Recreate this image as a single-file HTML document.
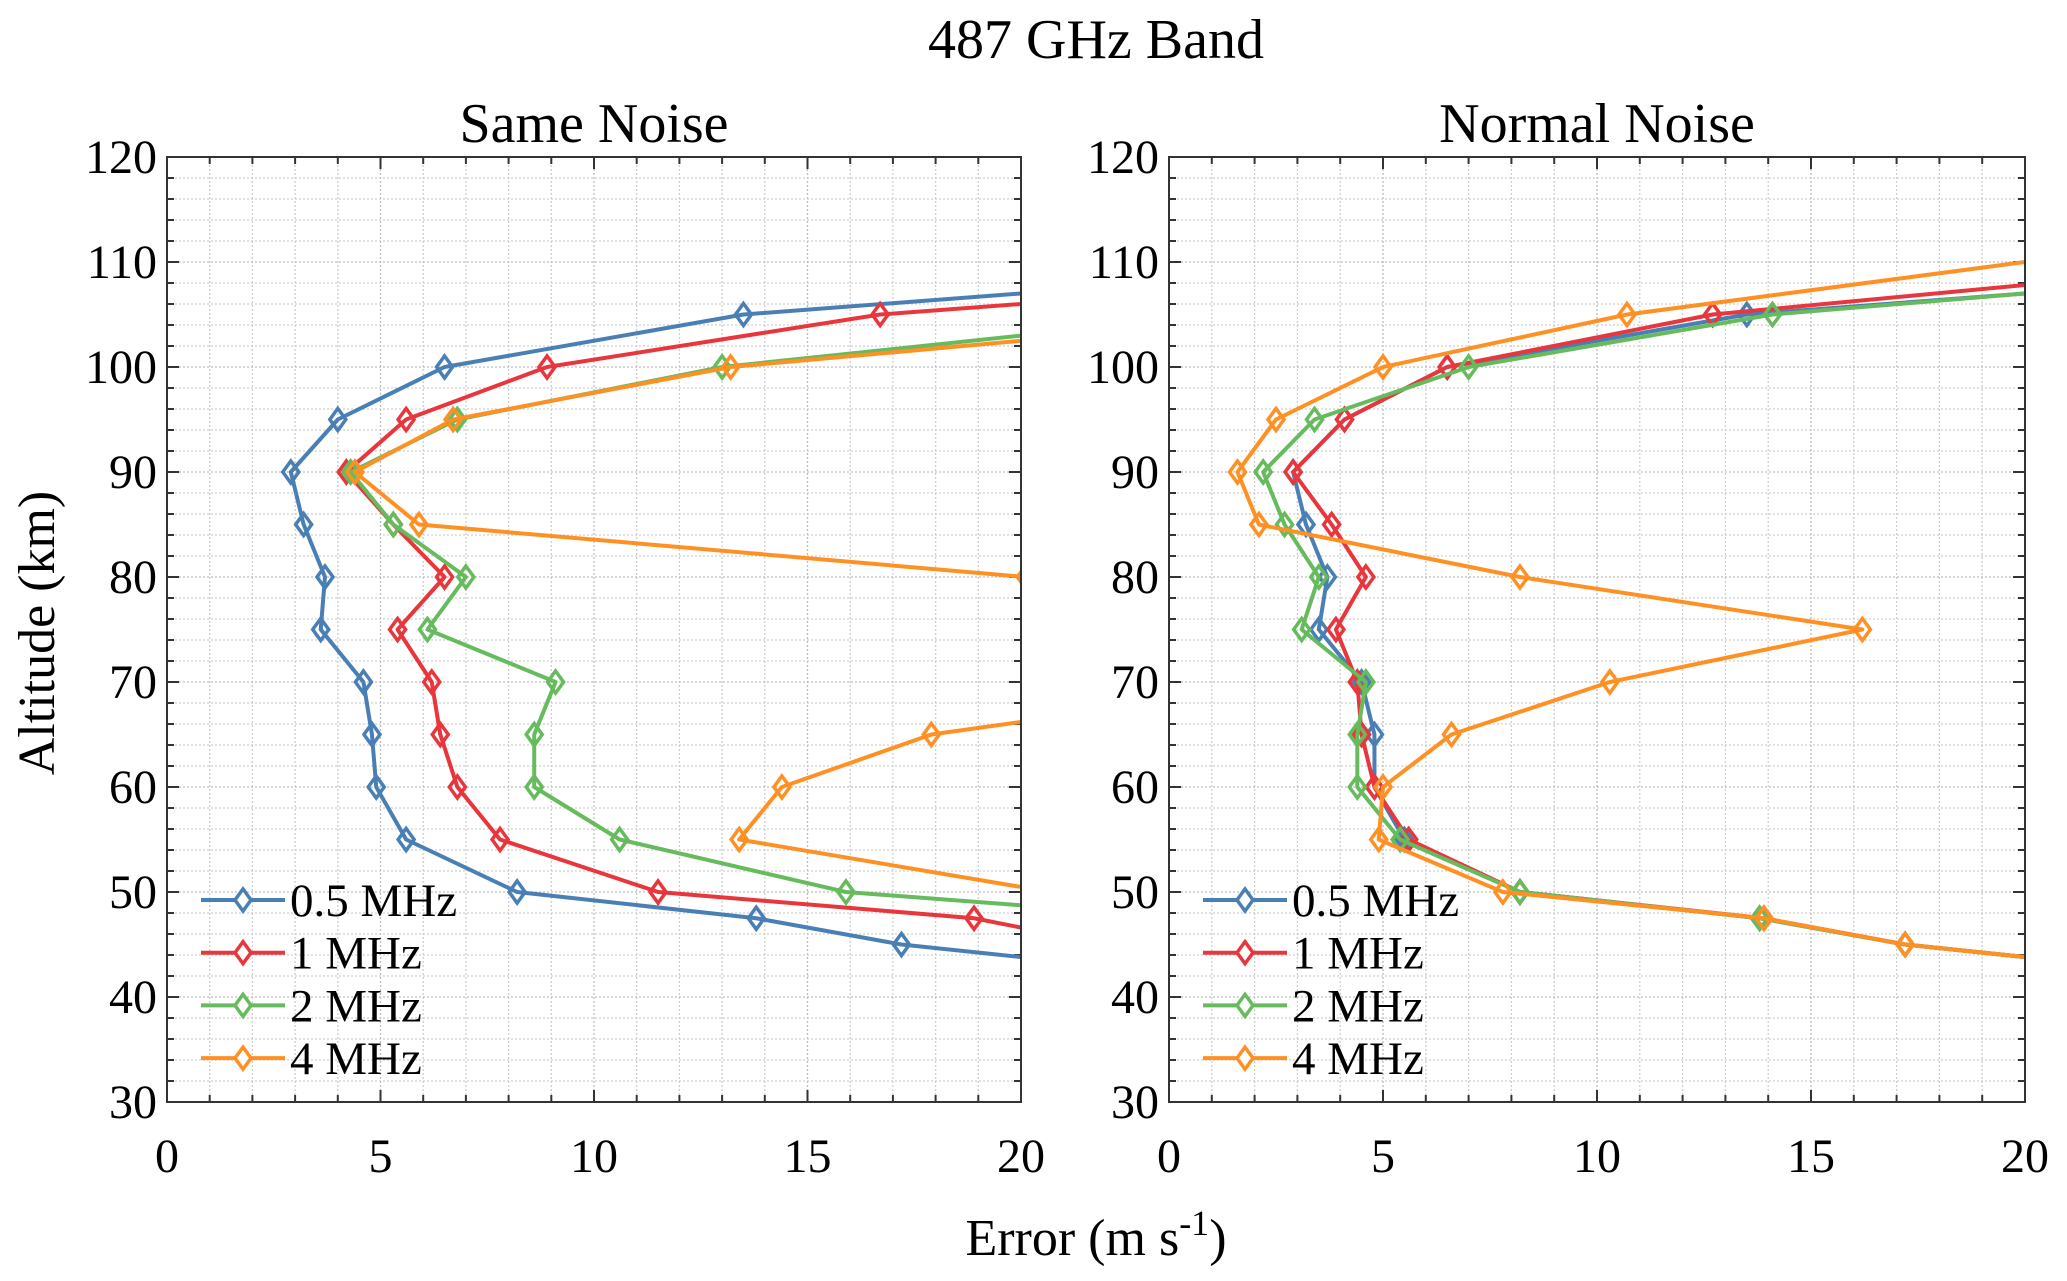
<!DOCTYPE html>
<html><head><meta charset="utf-8"><style>
html,body{margin:0;padding:0;background:#fff;}
svg{display:block;font-family:"Liberation Serif",serif;}
</style></head><body>
<svg id="fig" width="2067" height="1281" viewBox="0 0 2067 1281" xmlns="http://www.w3.org/2000/svg">
<text x="1096" y="58" font-size="56" text-anchor="middle">487 GHz Band</text>
<text x="1096" y="1255" font-size="52" text-anchor="middle">Error (m s<tspan dy="-20" font-size="36">-1</tspan><tspan dy="20">)</tspan></text>
<text transform="translate(54,633) rotate(-90)" font-size="52" text-anchor="middle">Altitude (km)</text>
</svg>
<script>
const altitudes = [110,105,100,95,90,85,80,75,70,65,60,55,50,47.5,45,40];
const seriesNames = ["0.5 MHz","1 MHz","2 MHz","4 MHz"];
const colors = ["#4a7fb5","#e8363c","#66bb5c","#ff9124"];
// Same Noise panel (null = no point)
const same05 = [29.75,13.5,6.5,4.0,2.9,3.2,3.7,3.6,4.6,4.8,4.9,5.6,8.2,13.8,17.2,28.9];
const same1  = [33.2,16.7,8.9,5.6,4.2,5.3,6.5,5.4,6.2,6.4,6.8,7.8,11.5,18.9,22,null];
const same2  = [null,24.7,13.0,6.8,4.3,5.3,7.0,6.1,9.1,8.6,8.6,10.6,15.9,24,null,null];
const same4  = [null,26.8,13.2,6.7,4.4,5.9,20.1,40,26.7,17.9,14.4,13.4,20.7,null,null,null];
// Normal Noise panel
const norm05 = [29.75,13.5,6.5,4.1,2.9,3.2,3.7,3.5,4.5,4.8,4.8,5.5,8.2,13.8,17.2,28.9];
const norm1  = [25.7,12.7,6.5,4.1,2.9,3.8,4.6,3.9,4.4,4.5,4.8,5.6,8.2,13.9,17.2,28.9];
const norm2  = [28.85,14.1,7.0,3.4,2.2,2.7,3.5,3.1,4.6,4.4,4.4,5.4,8.2,13.8,17.2,28.9];
const norm4  = [20,10.7,5.0,2.5,1.6,2.1,8.2,16.2,10.3,6.6,5.0,4.9,7.8,13.9,17.2,28.9];
const xTicks = [0,5,10,15,20];
const yTicks = [30,40,50,60,70,80,90,100,110,120];
const markerShown = [false,true,true,true,true,true,true,true,true,true,true,true,true,true,true,false];

const NS="http://www.w3.org/2000/svg";
const svg=document.getElementById('fig');
function mk(tag,attrs,parent){const e=document.createElementNS(NS,tag);for(const k in attrs)e.setAttribute(k,attrs[k]);(parent||svg).appendChild(e);return e;}

function panel(idx,x0,x1,title,data){
  const y0=157,y1=1102;
  const sx=v=>x0+(v/20)*(x1-x0);
  const sy=v=>y1-(v-30)/90*(y1-y0);
  const g=mk('g',{});
  
  
  const cid='clip'+idx;
  const cp=mk('clipPath',{id:cid},g);mk('rect',{x:x0,y:y0,width:x1-x0,height:y1-y0},cp);
  for(let v=1;v<20;v++){const l=mk('line',{x1:sx(v),x2:sx(v),y1:y0,y2:y1,stroke:v%5?'#cfcfcf':'#bdbdbd','stroke-width':1.3,'stroke-dasharray':'2,2'},g);}
  for(let v=32;v<120;v+=2){const l=mk('line',{x1:x0,x2:x1,y1:sy(v),y2:sy(v),stroke:v%10?'#cfcfcf':'#bdbdbd','stroke-width':1.3,'stroke-dasharray':'2,2'},g);}
  for(let v=0;v<=20;v++){const L=v%5?7:12;mk('line',{x1:sx(v),x2:sx(v),y1:y1,y2:y1-L,stroke:'#333','stroke-width':2},g);mk('line',{x1:sx(v),x2:sx(v),y1:y0,y2:y0+L,stroke:'#333','stroke-width':2},g);}
  for(let v=30;v<=120;v+=2){const L=v%10?7:12;mk('line',{x1:x0,x2:x0+L,y1:sy(v),y2:sy(v),stroke:'#333','stroke-width':2},g);mk('line',{x1:x1,x2:x1-L,y1:sy(v),y2:sy(v),stroke:'#333','stroke-width':2},g);}
  xTicks.forEach(v=>{const t=mk('text',{x:sx(v),y:1172,'font-size':48,'text-anchor':'middle'},g);t.textContent=v;});
  yTicks.forEach(v=>{const t=mk('text',{x:x0-10,y:sy(v)+16,'font-size':48,'text-anchor':'end'},g);t.textContent=v;});
  const tt=mk('text',{x:(x0+x1)/2,y:142,'font-size':56,'text-anchor':'middle'},g);tt.textContent=title;
  
  data.forEach((arr,s)=>{
    const sg=mk('g',{'clip-path':'url(#'+cid+')'},g);
    
    
    const pts=[];arr.forEach((v,i)=>{if(v!==null)pts.push([sx(v),sy(altitudes[i]),i]);});
    const p=mk('polyline',{points:pts.map(q=>q[0]+','+q[1]).join(' '),fill:'none',stroke:colors[s],'stroke-width':4,'stroke-linejoin':'round'},sg);
    
    pts.forEach(q=>{if(!markerShown[q[2]])return;const cx=q[0],cy=q[1];
      const m=mk('polygon',{points:`${cx},${cy-11} ${cx+8},${cy} ${cx},${cy+11} ${cx-8},${cy}`,fill:'none',stroke:colors[s],'stroke-width':3.5},sg);
      });
  });
  mk('rect',{x:x0,y:y0,width:x1-x0,height:y1-y0,fill:'none',stroke:'#333','stroke-width':2},g);
  const lg=mk('g',{},g);
  seriesNames.forEach((n,s)=>{const y=900+s*52.7,lx=x0+34;
    const e=mk('g',{},lg);
    mk('line',{x1:lx,x2:lx+84,y1:y,y2:y,stroke:colors[s],'stroke-width':4},e);
    const c=lx+42;mk('polygon',{points:`${c},${y-11} ${c+8},${y} ${c},${y+11} ${c-8},${y}`,fill:'#fff',stroke:colors[s],'stroke-width':3.5},e);
    const t=mk('text',{x:lx+89,y:y+16,'font-size':47},e);t.textContent=n;});
}
panel(0,167,1021,"Same Noise",[same05,same1,same2,same4]);
panel(1,1169,2025,"Normal Noise",[norm05,norm1,norm2,norm4]);
</script>
</body></html>
